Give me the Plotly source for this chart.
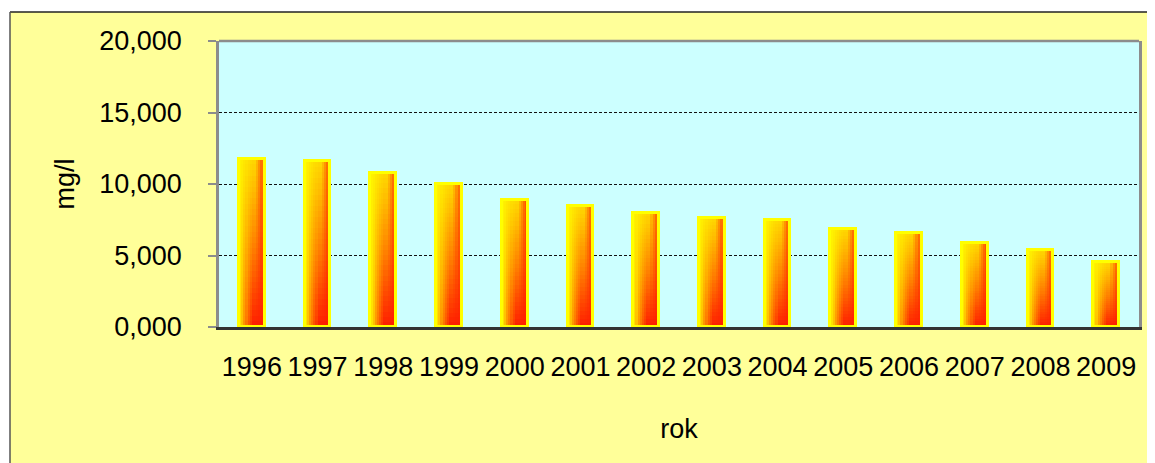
import plotly.graph_objects as go
from plotly.colors import sample_colorscale

years = ["1996", "1997", "1998", "1999", "2000", "2001", "2002",
         "2003", "2004", "2005", "2006", "2007", "2008", "2009"]
values = [11.77, 11.58, 10.78, 9.99, 8.87, 8.45, 8.00,
          7.63, 7.47, 6.84, 6.60, 5.86, 5.39, 4.53]
y_ticks = [0, 5, 10, 15, 20]
x_title = "rok"
y_title = "mg/l"

# the page body has an 8px margin, so the figure is sized to fill the rest
W, H = 1147, 455
ML, MR, MT, MB = 211, 16, 33, 136
PW = W - ML - MR
PH = H - MT - MB

FONT = "Liberation Sans, Arial, sans-serif"
BAR_W = 0.39

fig = go.Figure()

# vertical gradient built from stacked slices of each bar
N = 30
vscale = [[0.0, "#FF1E00"], [0.45, "#FF7A00"], [0.8, "#FFB800"], [1.0, "#FFD800"]]
cols = sample_colorscale(vscale, [(k + 0.5) / N for k in range(N)])
for k in range(N):
    fig.add_trace(go.Bar(
        x=years, y=[v / N for v in values], base=[v * k / N for v in values],
        width=BAR_W, marker=dict(color=cols[k], line=dict(width=0)),
        hoverinfo="skip", showlegend=False))

# horizontal shading: yellow on the left, red on the right
S = 12
sw = BAR_W / S
left_alpha = [0.9, 0.75, 0.55, 0.4, 0.25, 0.12]
right_alpha = [0.15, 0.35, 0.55, 0.7]
for i, a in enumerate(left_alpha):
    fig.add_trace(go.Bar(
        x=years, y=values, width=sw, offset=-BAR_W / 2 + i * sw,
        marker=dict(color=f"rgba(255,245,0,{a})", line=dict(width=0)),
        hoverinfo="skip", showlegend=False))
for i, a in enumerate(right_alpha):
    j = S - len(right_alpha) + i
    fig.add_trace(go.Bar(
        x=years, y=values, width=sw, offset=-BAR_W / 2 + j * sw,
        marker=dict(color=f"rgba(255,30,0,{a})", line=dict(width=0)),
        hoverinfo="skip", showlegend=False))

# outline
fig.add_trace(go.Bar(
    x=years, y=values, width=BAR_W,
    marker=dict(color="rgba(0,0,0,0)", line=dict(color="#FFFF00", width=3)),
    showlegend=False))


def px_x(p):
    return (p - ML) / PW


def px_y(p):
    return (H - MB - p) / PH


FX, FY = 2, 4  # chart frame corner (figure pixels)
shapes = [
    # top border of plot area
    dict(type="line", xref="paper", yref="paper", x0=0, x1=1, y0=1, y1=1,
         line=dict(color="#8C8C8C", width=2.5), layer="above"),
    # white margins outside the chart frame
    dict(type="rect", xref="paper", yref="paper", x0=px_x(-5), x1=px_x(W + 5),
         y0=px_y(FY), y1=px_y(-5), fillcolor="white", line=dict(width=0), layer="above"),
    dict(type="rect", xref="paper", yref="paper", x0=px_x(-5), x1=px_x(FX),
         y0=px_y(H + 5), y1=px_y(-5), fillcolor="white", line=dict(width=0), layer="above"),
    # chart frame
    dict(type="line", xref="paper", yref="paper", x0=px_x(FX), x1=px_x(W + 5),
         y0=px_y(FY), y1=px_y(FY), line=dict(color="#222222", width=1.5), layer="above"),
    dict(type="line", xref="paper", yref="paper", x0=px_x(FX), x1=px_x(FX),
         y0=px_y(FY), y1=px_y(H + 5), line=dict(color="#555555", width=1.5), layer="above"),
]

fig.update_layout(
    width=W, height=H,
    margin=dict(l=ML, r=MR, t=MT, b=MB, pad=0),
    paper_bgcolor="#FFFF99",
    plot_bgcolor="#CCFFFF",
    barmode="overlay",
    bargap=0,
    separators=", ",
    font=dict(family=FONT, size=27, color="black"),
    shapes=shapes,
    xaxis=dict(
        type="category", showline=True, linecolor="#333333", linewidth=2.5,
        ticks="", showgrid=False, ticklabelstandoff=14,
        tickfont=dict(size=27),
        title=dict(text=x_title, font=dict(size=27), standoff=38),
    ),
    yaxis=dict(
        range=[0, 20], tickvals=y_ticks, tickformat=".3f",
        showline=True, linecolor="#8C8C8C", linewidth=2.5, mirror=True,
        ticks="outside", ticklen=8, tickcolor="#8C8C8C", tickwidth=1.5,
        ticklabelstandoff=21,
        showgrid=True, gridcolor="#111111", griddash="3px,2px", gridwidth=1,
        zeroline=False,
        tickfont=dict(size=27),
        title=dict(text=y_title, font=dict(size=27), standoff=17),
    ),
)

fig.write_html("out.html")
